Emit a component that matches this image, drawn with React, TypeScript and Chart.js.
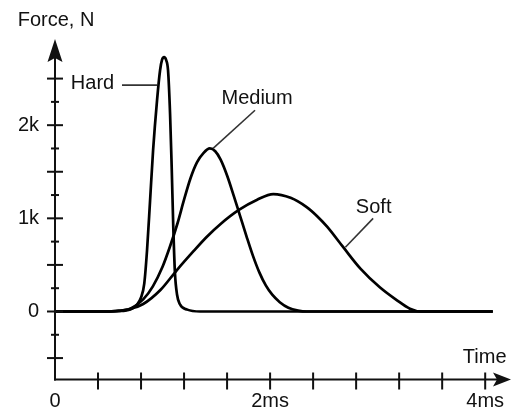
import React, { useEffect, useRef } from "react";
import { Chart, registerables } from "chart.js";

Chart.register(...registerables);

// ---- data (time in ms, force in kN) ----
const hardTime = [0, 0.51, 0.62, 0.7, 0.76, 0.8, 0.83, 0.856, 0.884, 0.912, 0.949, 0.977, 0.995, 1.014, 1.033, 1.051, 1.07, 1.085, 1.1, 1.115, 1.135, 1.16, 1.23, 1.35, 4.07];
const hardForce = [0, 0, 0.005, 0.02, 0.07, 0.15, 0.3, 0.66, 1.19, 1.73, 2.27, 2.59, 2.7, 2.73, 2.7, 2.59, 2.12, 1.55, 0.9, 0.42, 0.18, 0.08, 0.02, 0, 0];

const mediumTime = [0, 0.51, 0.6, 0.7, 0.82, 0.91, 1.0, 1.07, 1.14, 1.2, 1.26, 1.32, 1.38, 1.44, 1.49, 1.54, 1.6, 1.66, 1.72, 1.78, 1.84, 1.9, 1.96, 2.02, 2.09, 2.17, 2.26, 2.34, 4.07];
const mediumForce = [0, 0, 0.01, 0.03, 0.13, 0.27, 0.48, 0.7, 0.95, 1.2, 1.43, 1.6, 1.7, 1.75, 1.72, 1.63, 1.46, 1.25, 1.03, 0.81, 0.6, 0.42, 0.28, 0.18, 0.1, 0.04, 0.01, 0, 0];

const softTime = [0, 0.51, 0.6, 0.67, 0.82, 0.98, 1.13, 1.29, 1.41, 1.54, 1.71, 1.88, 2.03, 2.19, 2.34, 2.44, 2.53, 2.68, 2.84, 3.02, 3.18, 3.3, 3.4, 4.07];
const softForce = [0, 0, 0.005, 0.02, 0.08, 0.23, 0.44, 0.65, 0.8, 0.94, 1.09, 1.2, 1.26, 1.22, 1.12, 1.02, 0.91, 0.69, 0.46, 0.26, 0.12, 0.03, 0, 0];

const yMajorTicks = [-0.5, 0, 0.5, 1, 1.5, 2, 2.5];
const yMinorTicks = [-0.25, 0.25, 0.75, 1.25, 1.75, 2.25];
const yTickValues = [0, 1, 2];
const yTickTexts = ["0", "1k", "2k"];
const xTicks = [0.4, 0.8, 1.2, 1.6, 2.0, 2.4, 2.8, 3.2, 3.6, 4.0];
const xTickValues = [0, 2, 4];
const xTickTexts = ["0", "2ms", "4ms"];

const seriesNames = ["Hard", "Medium", "Soft"];

// annotation anchors in data coordinates
const labelAnchors = [
  { text: "Hard", t: 0.349, f: 2.446, from: [0.623, 2.43], to: [0.95, 2.43] },
  { text: "Medium", t: 1.879, f: 2.285, from: [1.86, 2.16], to: [1.47, 1.75] },
  { text: "Soft", t: 2.963, f: 1.113, from: [2.958, 1.0], to: [2.7, 0.69] },
];

const FONT = '20px "Liberation Sans", Arial, Helvetica, sans-serif';
const INK = "#111";

function toPoints(ts: number[], fs: number[]) {
  return ts.map((t, i) => ({ x: t, y: fs[i] }));
}

export default function App() {
  const ref = useRef<HTMLCanvasElement>(null);

  useEffect(() => {
    if (!ref.current) return;

    const axesPlugin = {
      id: "axesDraw",
      afterDatasetsDraw(chart: any) {
        const { ctx, chartArea, scales } = chart;
        const xs = scales.x;
        const ys = scales.y;
        const X = (v: number) => xs.getPixelForValue(v);
        const Y = (v: number) => ys.getPixelForValue(v);
        const ox = X(0);
        const oy = chartArea.bottom;
        const line = (x1: number, y1: number, x2: number, y2: number) => {
          ctx.beginPath();
          ctx.moveTo(x1, y1);
          ctx.lineTo(x2, y2);
          ctx.stroke();
        };
        ctx.save();
        ctx.strokeStyle = INK;
        ctx.fillStyle = INK;
        ctx.lineWidth = 2;

        // axes lines
        line(ox, oy + 1, ox, chartArea.top + 18);
        line(ox - 1, oy, chartArea.right - 14, oy);

        // y arrow
        const ty = chartArea.top;
        ctx.beginPath();
        ctx.moveTo(ox, ty);
        ctx.lineTo(ox + 7.5, ty + 23);
        ctx.lineTo(ox, ty + 19);
        ctx.lineTo(ox - 7.5, ty + 23);
        ctx.closePath();
        ctx.fill();

        // x arrow
        const tx = chartArea.right;
        ctx.beginPath();
        ctx.moveTo(tx, oy);
        ctx.lineTo(tx - 18, oy - 7);
        ctx.lineTo(tx - 14, oy);
        ctx.lineTo(tx - 18, oy + 7);
        ctx.closePath();
        ctx.fill();

        // ticks
        yMajorTicks.forEach((v) => line(ox - 8, Y(v), ox + 8, Y(v)));
        yMinorTicks.forEach((v) => line(ox - 4, Y(v), ox + 4, Y(v)));
        xTicks.forEach((v) => line(X(v), oy - 7, X(v), oy + 10));

        // tick labels
        ctx.font = FONT;
        ctx.textBaseline = "middle";
        ctx.textAlign = "right";
        yTickValues.forEach((v, i) => ctx.fillText(yTickTexts[i], ox - 16, Y(v)));
        ctx.textAlign = "center";
        xTickValues.forEach((v, i) => ctx.fillText(xTickTexts[i], X(v), oy + 22));

        // axis titles
        ctx.fillText("Force, N", ox + 1, chartArea.top - 19);
        ctx.fillText("Time", X(3.995), Y(-0.489));

        // series labels with leader lines
        labelAnchors.forEach((a) => {
          ctx.fillText(a.text, X(a.t), Y(a.f));
          ctx.lineWidth = 1.6;
          ctx.strokeStyle = "#333";
          line(X(a.from[0]), Y(a.from[1]), X(a.to[0]), Y(a.to[1]));
        });

        ctx.restore();
      },
    };

    const mk = (ts: number[], fs: number[], name: string) => ({
      label: name,
      data: toPoints(ts, fs),
      borderColor: "#000",
      borderWidth: 2.7,
      pointRadius: 0,
      fill: false,
      cubicInterpolationMode: "monotone" as const,
      clip: false as any,
    });

    const chart = new Chart(ref.current, {
      type: "line",
      data: {
        datasets: [
          mk(hardTime, hardForce, seriesNames[0]),
          mk(mediumTime, mediumForce, seriesNames[1]),
          mk(softTime, softForce, seriesNames[2]),
        ],
      },
      options: {
        animation: false,
        responsive: false,
        layout: { padding: { left: 55, right: 2, top: 39, bottom: 32.5 } },
        plugins: { legend: { display: false }, tooltip: { enabled: false } },
        scales: {
          x: { type: "linear", min: 0, max: 4.24, display: false },
          y: { type: "linear", min: -0.73, max: 2.925, display: false },
        },
      },
      plugins: [axesPlugin],
    });

    return () => chart.destroy();
  }, []);

  return (
    <canvas
      ref={ref}
      width={513}
      height={412}
      style={{ position: "absolute", left: 0, top: 0, width: 513, height: 412, background: "#fff" }}
    />
  );
}
